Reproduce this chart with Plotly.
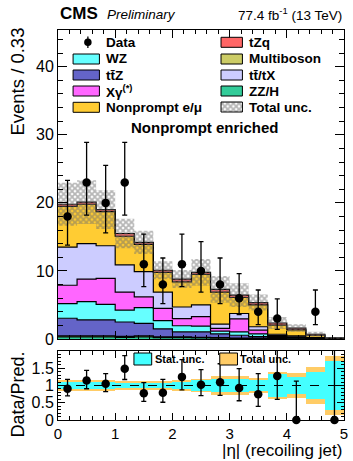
import numpy as np
import plotly.graph_objects as go

# |eta| binning of the recoiling jet: 15 bins of width 1/3
bin_edges = np.linspace(0.0, 5.0, 16)
bin_centers = 0.5 * (bin_edges[:-1] + bin_edges[1:])

# Observed events
data_obs = [18, 23, 20, 23, 11, 8, 11, 10, 8, 6, 4, 3, 0, 4, 0]
data_err_up = [5.3, 5.9, 5.5, 5.9, 4.4, 3.9, 4.4, 4.3, 3.9, 3.6, 3.2, 2.9, 1.8, 3.2, 1.8]
data_err_dn = [4.2, 4.8, 4.4, 4.8, 3.3, 2.8, 3.3, 3.1, 2.8, 2.4, 1.9, 1.6, 0.0, 1.9, 0.0]

# Predicted yields per process (stacked bottom to top)
zz_h = [0.30, 0.30, 0.30, 0.25, 0.30, 0.20, 0.20, 0.15, 0.12, 0.10, 0.10, 0.05, 0.04, 0.02, 0.01]
multiboson = [0.15, 0.15, 0.15, 0.15, 0.15, 0.10, 0.10, 0.10, 0.08, 0.05, 0.05, 0.05, 0.03, 0.02, 0.01]
ttz = [2.60, 2.35, 2.35, 2.10, 1.85, 1.20, 0.75, 0.80, 0.55, 0.40, 0.20, 0.10, 0.05, 0.02, 0.01]
wz = [2.15, 2.70, 2.30, 1.75, 2.30, 1.20, 0.90, 0.85, 0.40, 0.50, 0.40, 0.15, 0.08, 0.04, 0.01]
xgamma = [2.70, 3.30, 3.80, 2.65, 1.60, 1.80, 1.05, 1.40, 0.40, 1.90, 0.55, 0.15, 0.10, 0.04, 0.02]
tt_tx = [5.60, 5.20, 4.80, 4.00, 3.70, 2.40, 1.70, 1.70, 0.65, 0.80, 0.50, 0.20, 0.15, 0.06, 0.02]
nonprompt = [6.00, 5.80, 5.00, 4.20, 4.00, 2.90, 3.70, 4.50, 4.70, 2.35, 3.20, 1.35, 0.90, 0.35, 0.04]
tzq = [0.30, 0.30, 0.30, 0.40, 0.30, 0.30, 0.40, 0.30, 0.40, 0.35, 0.35, 0.30, 0.25, 0.15, 0.03]

# Relative uncertainties on the prediction
total_unc_rel = [0.16, 0.16, 0.15, 0.14, 0.12, 0.13, 0.15, 0.20, 0.27, 0.27, 0.22, 0.38, 0.35, 0.54, 0.85]
stat_unc_rel = [0.09, 0.10, 0.09, 0.08, 0.07, 0.07, 0.10, 0.15, 0.19, 0.19, 0.16, 0.32, 0.25, 0.40, 0.72]

processes = [
    ("ZZ/H", zz_h, "#33CC99"),
    ("Multiboson", multiboson, "#CCCC66"),
    ("tt\u0304Z", ttz, "#6464C8"),
    ("WZ", wz, "#66FFFF"),
    ("X\u03b3<sup>(*)</sup>", xgamma, "#FF66FF"),
    ("tt\u0304/tX", tt_tx, "#CCCCFF"),
    ("Nonprompt e/\u03bc", nonprompt, "#FFCC33"),
    ("tZq", tzq, "#FF6666"),
]

FONT = "Liberation Sans, Arial, Helvetica, sans-serif"
W, H = 353, 461
ML, MR, MT, MB = 58, 5, 30, 41
PW, PH = W - ML - MR, H - MT - MB
MAIN_BOTTOM_PX = 339
RATIO_TOP_PX = 351
Y_MAIN_MAX = 45.4


def px_x(px):
    return (px - ML) / PW


def px_y(py):
    return (H - MB - py) / PH


def step(vals):
    return np.append(vals, vals[-1])


fig = go.Figure()

# Stacked prediction as filled step histograms
cum = np.zeros(len(bin_centers))
for i, (name, vals, color) in enumerate(processes):
    cum = cum + np.array(vals)
    fig.add_trace(go.Scatter(
        x=bin_edges, y=step(cum), mode="lines",
        line=dict(shape="hv", color="black", width=1.2),
        fill="tozeroy" if i == 0 else "tonexty", fillcolor=color,
        name=name, showlegend=False, hoverinfo="skip",
        xaxis="x", yaxis="y"))
pred = cum.copy()

# Total uncertainty band on the prediction (hatched)
tot = np.array(total_unc_rel)
hatch = dict(shape="x", fgcolor="#6e6e6e", bgcolor="rgba(255,255,255,0)",
             size=4, solidity=0.7)
fig.add_trace(go.Scatter(
    x=bin_edges, y=step(pred * (1 - tot)), mode="lines",
    line=dict(shape="hv", width=0, color="rgba(0,0,0,0)"),
    showlegend=False, hoverinfo="skip", xaxis="x", yaxis="y"))
fig.add_trace(go.Scatter(
    x=bin_edges, y=step(pred * (1 + tot)), mode="lines",
    line=dict(shape="hv", width=0, color="rgba(0,0,0,0)"),
    fill="tonexty", fillcolor="rgba(0,0,0,0)", fillpattern=hatch,
    showlegend=False, hoverinfo="skip", xaxis="x", yaxis="y"))

# Observed data (empty bins not drawn)
obs = np.array(data_obs, dtype=float)
obs_plot = [v if v > 0 else None for v in obs]
fig.add_trace(go.Scatter(
    x=bin_centers, y=obs_plot, mode="markers",
    marker=dict(color="black", size=8.5),
    error_y=dict(type="data", symmetric=False, array=data_err_up,
                 arrayminus=data_err_dn, color="black", thickness=1.3, width=2.5),
    showlegend=False, hoverinfo="skip", xaxis="x", yaxis="y"))

# Ratio panel: uncertainty bands
stat = np.array(stat_unc_rel)
fig.add_trace(go.Bar(
    x=bin_centers, y=2 * tot, base=1 - tot, width=1 / 3,
    marker=dict(color="#FFCC66", line=dict(width=0)),
    showlegend=False, hoverinfo="skip", xaxis="x2", yaxis="y2"))
fig.add_trace(go.Bar(
    x=bin_centers, y=2 * stat, base=1 - stat, width=1 / 3,
    marker=dict(color="#44FFFF", line=dict(width=0)),
    showlegend=False, hoverinfo="skip", xaxis="x2", yaxis="y2"))

ratio = obs / pred
ratio_up = np.array(data_err_up) / pred
ratio_dn = np.array(data_err_dn) / pred
fig.add_trace(go.Scatter(
    x=bin_centers, y=ratio, mode="markers",
    marker=dict(color="rgba(0,0,0,0)", size=8),
    error_y=dict(type="data", symmetric=False, array=ratio_up,
                 arrayminus=ratio_dn, color="black", thickness=1.3, width=2.5),
    showlegend=False, hoverinfo="skip", xaxis="x2", yaxis="y2"))
fig.add_trace(go.Scatter(
    x=bin_centers, y=[r if r <= 2 else None for r in ratio], mode="markers",
    marker=dict(color="black", size=8.5), cliponaxis=False,
    showlegend=False, hoverinfo="skip", xaxis="x2", yaxis="y2"))


# Legend key for the hatched total uncertainty (main-axis coordinates)
def to_main(px, py):
    return (px - ML) / PW * 5.0, (MAIN_BOTTOM_PX - py) * Y_MAIN_MAX / (MAIN_BOTTOM_PX - MT)


hx0, hy0 = to_main(223.3, 112)
hx1, hy1 = to_main(245, 102)
fig.add_trace(go.Scatter(
    x=[hx0, hx1, hx1, hx0, hx0], y=[hy0, hy0, hy1, hy1, hy0], mode="lines",
    line=dict(color="black", width=1), fill="toself", fillcolor="rgba(0,0,0,0)",
    fillpattern=dict(shape="x", fgcolor="#6e6e6e", bgcolor="white", size=4, solidity=0.7),
    showlegend=False, hoverinfo="skip", xaxis="x", yaxis="y"))

shapes = []
annotations = []

# Two-column legend
rows = [42.3, 59, 75, 91, 107.3]
left_items = [("WZ", "#66FFFF"), ("tt\u0304Z", "#6464C8"),
              ("X\u03b3<sup>(*)</sup>", "#FF66FF"), ("Nonprompt e/\u03bc", "#FFCC33")]
right_items = [("tZq", "#FF6666"), ("Multiboson", "#CCCC66"),
               ("tt\u0304/tX", "#CCCCFF"), ("ZZ/H", "#33CC99")]
leg_font = dict(family=FONT, size=13.5, color="black")

# data entry
shapes.append(dict(type="line", xref="paper", yref="paper",
                   x0=px_x(88.3), x1=px_x(88.3), y0=px_y(36.5), y1=px_y(48),
                   line=dict(color="black", width=1.3)))
shapes.append(dict(type="circle", xref="paper", yref="paper",
                   x0=px_x(84.5), x1=px_x(92.1), y0=px_y(46.1), y1=px_y(38.5),
                   fillcolor="black", line=dict(color="black", width=0)))
annotations.append(dict(text="<b>Data</b>", xref="paper", yref="paper",
                        x=px_x(105), y=px_y(rows[0]), xanchor="left", yanchor="middle",
                        showarrow=False, font=leg_font))
for (label, color), py in zip(left_items, rows[1:]):
    shapes.append(dict(type="rect", xref="paper", yref="paper",
                       x0=px_x(73.3), x1=px_x(100), y0=px_y(py + 5), y1=px_y(py - 5),
                       fillcolor=color, line=dict(color="black", width=1)))
    annotations.append(dict(text=f"<b>{label}</b>", xref="paper", yref="paper",
                            x=px_x(105), y=px_y(py), xanchor="left", yanchor="middle",
                            showarrow=False, font=leg_font))
for (label, color), py in zip(right_items, rows[:4]):
    shapes.append(dict(type="rect", xref="paper", yref="paper",
                       x0=px_x(223.3), x1=px_x(245), y0=px_y(py + 5), y1=px_y(py - 5),
                       fillcolor=color, line=dict(color="black", width=1)))
    annotations.append(dict(text=f"<b>{label}</b>", xref="paper", yref="paper",
                            x=px_x(250), y=px_y(py), xanchor="left", yanchor="middle",
                            showarrow=False, font=leg_font))
annotations.append(dict(text="<b>Total unc.</b>", xref="paper", yref="paper",
                        x=px_x(250), y=px_y(rows[4]), xanchor="left", yanchor="middle",
                        showarrow=False, font=leg_font))

# Ratio legend
for x0, x1, color, label, tx in [(135, 153, "#44FFFF", "Stat. unc.", 154),
                                 (222, 240, "#FFCC66", "Total unc.", 241)]:
    shapes.append(dict(type="rect", xref="paper", yref="paper",
                       x0=px_x(x0), x1=px_x(x1), y0=px_y(365), y1=px_y(353),
                       fillcolor=color, line=dict(color="black", width=1)))
    annotations.append(dict(text=f"<b>{label}</b>", xref="paper", yref="paper",
                            x=px_x(tx), y=px_y(358.5), xanchor="left", yanchor="middle",
                            showarrow=False, font=dict(family=FONT, size=11, color="black")))

# Reference line at ratio 1
shapes.append(dict(type="line", xref="x2", yref="y2", x0=0, x1=5, y0=1, y1=1,
                   line=dict(color="black", width=1, dash="dash")))

# Header and labels
annotations += [
    dict(text="<b>CMS</b>", xref="paper", yref="paper", x=px_x(58), y=px_y(13.5),
         xanchor="left", yanchor="middle", showarrow=False,
         font=dict(family=FONT, size=17, color="black")),
    dict(text="<i>Preliminary</i>", xref="paper", yref="paper", x=px_x(106), y=px_y(14.5),
         xanchor="left", yanchor="middle", showarrow=False,
         font=dict(family=FONT, size=13.5, color="black")),
    dict(text="77.4 fb<sup>-1</sup> (13 TeV)", xref="paper", yref="paper",
         x=px_x(348), y=px_y(14), xanchor="right", yanchor="middle", showarrow=False,
         font=dict(family=FONT, size=13.5, color="black")),
    dict(text="<b>Nonprompt enriched</b>", xref="paper", yref="paper",
         x=px_x(207), y=px_y(127), xanchor="center", yanchor="middle", showarrow=False,
         font=dict(family=FONT, size=15, color="black")),
    dict(text="Events / 0.33", xref="paper", yref="paper", x=px_x(17), y=px_y(82),
         xanchor="center", yanchor="middle", textangle=-90, showarrow=False,
         font=dict(family=FONT, size=18.5, color="black")),
    dict(text="Data/Pred.", xref="paper", yref="paper", x=px_x(17), y=px_y(395),
         xanchor="center", yanchor="middle", textangle=-90, showarrow=False,
         font=dict(family=FONT, size=18, color="black")),
    dict(text="|\u03b7| (recoiling jet)", xref="paper", yref="paper", x=px_x(348),
         y=px_y(450), xanchor="right", yanchor="middle", showarrow=False,
         font=dict(family=FONT, size=17, color="black")),
]

axis_common = dict(showline=True, linecolor="black", linewidth=1, mirror="allticks",
                   ticks="inside", tickcolor="black", showgrid=False, zeroline=False,
                   tickfont=dict(family=FONT, size=16, color="black"))

fig.update_layout(
    width=W, height=H,
    margin=dict(l=ML, r=MR, t=MT, b=MB),
    paper_bgcolor="white", plot_bgcolor="white",
    barmode="overlay", bargap=0,
    showlegend=False,
    xaxis=dict(domain=[0, 1], range=[0, 5], anchor="y", showticklabels=False,
               dtick=1, ticklen=8, minor=dict(dtick=0.2, ticklen=4, ticks="inside",
                                              tickcolor="black"),
               **axis_common),
    yaxis=dict(domain=[px_y(MAIN_BOTTOM_PX), 1], range=[0, Y_MAIN_MAX], anchor="x",
               dtick=10, tick0=0, ticklen=9,
               minor=dict(dtick=2, ticklen=5, ticks="inside", tickcolor="black"),
               **axis_common),
    xaxis2=dict(domain=[0, 1], range=[0, 5], anchor="y2", dtick=1, ticklen=7,
                minor=dict(dtick=0.2, ticklen=4, ticks="inside", tickcolor="black"),
                **{**axis_common, "tickfont": dict(family=FONT, size=15, color="black")}),
    yaxis2=dict(domain=[0, px_y(RATIO_TOP_PX)], range=[0, 2], anchor="x2",
                tickvals=[0, 0.5, 1, 1.5], ticktext=["0", "0.5", "1", "1.5"], ticklen=7,
                minor=dict(dtick=0.1, ticklen=3, ticks="inside", tickcolor="black"),
                **axis_common),
    shapes=shapes,
    annotations=annotations,
)

fig.write_html("out.html")
